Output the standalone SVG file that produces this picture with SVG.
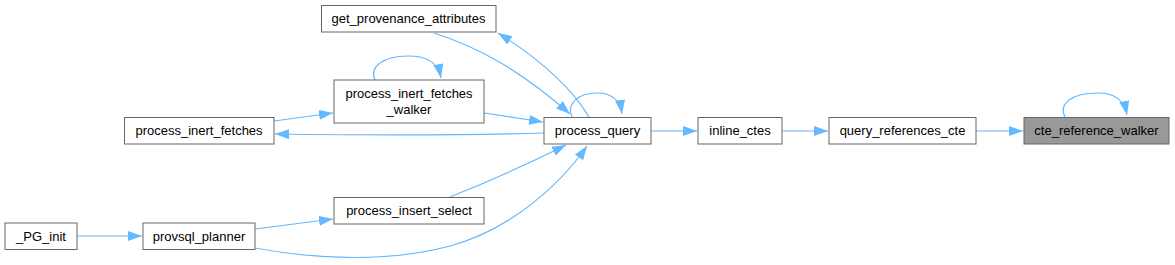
<svg xmlns="http://www.w3.org/2000/svg" width="1175" height="265" viewBox="0 0 1175 265">
<style>
.node rect{fill:#ffffff;stroke:#666666;stroke-width:1}
.node.hl rect{fill:#999999}
.node text{font-family:"Liberation Sans",Arial,sans-serif;font-size:13px;fill:#000000;text-anchor:middle}
.edges path{fill:none;stroke:#63b8ff;stroke-width:1.2;marker-end:url(#ah)}
</style>
<defs>
<marker id="ah" markerUnits="userSpaceOnUse" markerWidth="16" markerHeight="12" refX="14" refY="5" orient="auto">
<path d="M0,0 L14,5 L0,10 z" fill="#63b8ff" stroke="none"/>
</marker>
</defs>
<rect width="1175" height="265" fill="#ffffff"/>
<g class="edges" id="edges">
<path d="M976,131 L1023,131"/>
<path d="M782,131 L828,131"/>
<path d="M651,131 L697,131"/>
<path d="M1065,117 C1058,104 1072,93 1097,93 C1115,93 1124,100 1127,115"/>
<path d="M572,117 C566,104 578,93 597,93 C612,93 620,100 622,114"/>
<path d="M375,80 C369,67 383,56 408,56 C428,56 438,63 441,78"/>
<path d="M589,117 C575,93 545,62 498,33"/>
<path d="M434,33 C478,47 520,70 570,114"/>
<path d="M484,113 L543,122"/>
<path d="M544,133 C450,136 350,135 275,134"/>
<path d="M274,121 L333,113"/>
<path d="M450,197 C500,177 540,158 566,145"/>
<path d="M255,248 C320,260 390,262 450,246 C510,230 560,185 587,146"/>
<path d="M255,229 L333,219"/>
<path d="M77,236 L142,236"/>
</g>
<g class="node hl" id="cte_reference_walker"><rect x="1024" y="117.5" width="145" height="26.5"/><text x="1096.5" y="135">cte_reference_walker</text></g>
<g class="node" id="query_references_cte"><rect x="829" y="117.5" width="147" height="26.5"/><text x="902.5" y="135">query_references_cte</text></g>
<g class="node" id="inline_ctes"><rect x="698" y="117.5" width="84" height="26.5"/><text x="740" y="135">inline_ctes</text></g>
<g class="node" id="process_query"><rect x="544" y="117.5" width="107" height="26.5"/><text x="597.5" y="135">process_query</text></g>
<g class="node" id="get_provenance_attributes"><rect x="321.5" y="5.5" width="174.5" height="26.5"/><text x="408.5" y="23">get_provenance_attributes</text></g>
<g class="node" id="process_inert_fetches_walker"><rect x="334" y="80" width="150" height="43"/><text x="409" y="97.5">process_inert_fetches</text><text x="409" y="113.5">_walker</text></g>
<g class="node" id="process_inert_fetches"><rect x="124.5" y="117.5" width="149.5" height="26.5"/><text x="199" y="135">process_inert_fetches</text></g>
<g class="node" id="process_insert_select"><rect x="334" y="197.5" width="150" height="26.5"/><text x="409" y="215">process_insert_select</text></g>
<g class="node" id="provsql_planner"><rect x="143" y="223" width="112" height="26.5"/><text x="199" y="241">provsql_planner</text></g>
<g class="node" id="_PG_init"><rect x="5" y="223" width="72" height="26.5"/><text x="41" y="241">_PG_init</text></g>
</svg>
